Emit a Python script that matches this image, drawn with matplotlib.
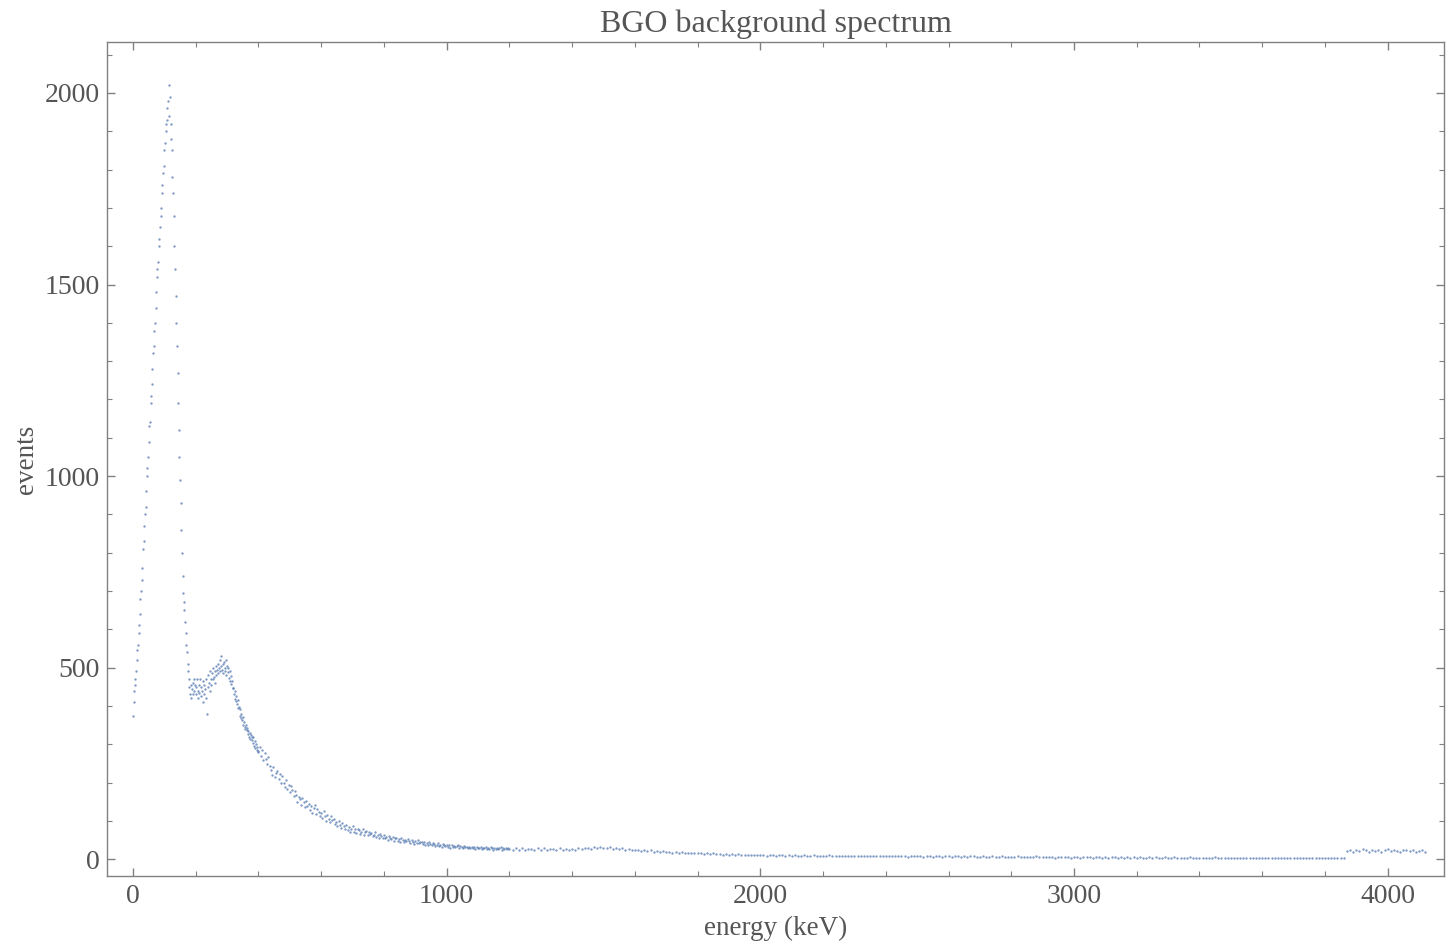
import numpy as np
import matplotlib.pyplot as plt
from matplotlib.ticker import MultipleLocator

# channel energies (keV) of each block of the spectrum
energy_peak = np.arange(0, 400, 2)
energy_mid = np.arange(400, 1200, 4)
energy_tail = np.arange(1200, 3870, 10)
energy_end = np.arange(3870, 4130, 10)

# counts
events_peak = [
    375, 410, 440, 455, 470, 490, 520, 545, 560, 590,
    610, 640, 680, 700, 730, 760, 810, 830, 870, 900,
    920, 960, 1000, 1020, 1050, 1090, 1130, 1140, 1190, 1210,
    1240, 1280, 1320, 1340, 1380, 1400, 1440, 1480, 1520, 1540,
    1560, 1600, 1620, 1650, 1680, 1700, 1740, 1760, 1790, 1810,
    1850, 1870, 1900, 1920, 1930, 1960, 1980, 1940, 2020, 1990,
    1920, 1880, 1850, 1780, 1740, 1680, 1600, 1540, 1470, 1400,
    1340, 1270, 1190, 1120, 1050, 990, 930, 860, 800, 740,
    694, 670, 650, 620, 590, 560, 540, 510, 490, 470,
    450, 430, 455, 420, 445, 460, 430, 470, 440, 455,
    450, 430, 470, 440, 420, 455, 435, 470, 425, 450,
    440, 410, 465, 430, 455, 445, 420, 470, 380, 450,
    480, 460, 440, 490, 470, 455, 485, 470, 500, 475,
    490, 460, 505, 480, 495, 510, 485, 500, 520, 490,
    505, 530, 495, 510, 485, 515, 500, 490, 520, 480,
    505, 488, 500, 472, 490, 466, 478, 458, 465, 448,
    448, 430, 440, 418, 425, 412, 404, 415, 395, 398,
    392, 374, 380, 368, 362, 372, 350, 358, 346, 340,
    350, 336, 342, 326, 334, 320, 330, 314, 324, 318,
    310, 320, 302, 296, 308, 290, 300, 286, 294, 280,
]

events_mid = [
    282, 294, 270, 284, 258, 276, 262, 248, 266, 244,
    232, 220, 240, 214, 226, 230, 208, 222, 200, 216,
    200, 188, 206, 182, 194, 176, 190, 180, 164, 178,
    168, 150, 162, 156, 142, 160, 148, 136, 152, 140,
    144, 128, 138, 120, 134, 142, 118, 130, 124, 112,
    120, 108, 126, 112, 100, 116, 106, 96, 112, 102,
    104, 92, 98, 86, 100, 90, 82, 94, 86, 80,
    88, 76, 84, 70, 80, 86, 72, 78, 68, 80,
    76, 66, 72, 78, 64, 70, 74, 62, 70, 66,
    68, 60, 64, 70, 58, 64, 56, 66, 60, 54,
    62, 54, 58, 50, 60, 56, 52, 58, 48, 56,
    54, 48, 52, 46, 56, 50, 44, 50, 47, 52,
    48, 42, 50, 45, 40, 47, 43, 49, 41, 44,
    44, 40, 46, 38, 42, 36, 44, 40, 37, 42,
    40, 35, 38, 42, 34, 37, 33, 39, 36, 34,
    37, 32, 36, 30, 38, 33, 35, 31, 34, 36,
    30, 34, 32, 28, 35, 31, 33, 29, 32, 30,
    32, 28, 31, 27, 33, 30, 28, 31, 26, 30,
    28, 31, 26, 29, 27, 32, 28, 25, 30, 27,
    29, 26, 28, 31, 25, 28, 27, 30, 26, 29,
]

events_tail = [
    27, 24, 29, 25, 28, 23, 27, 26, 24, 28,
    25, 28, 24, 27, 26, 23, 28, 25, 27, 24,
    27, 25, 29, 26, 28, 30, 27, 31, 29, 32,
    30, 28, 31, 27, 29, 26, 28, 25, 27, 24,
    23, 25, 22, 24, 21, 23, 20, 22, 19, 21,
    18, 20, 17, 19, 16, 18, 16, 17, 15, 17,
    15, 16, 14, 16, 13, 15, 13, 14, 12, 14,
    12, 13, 11, 13, 11, 12, 11, 12, 10, 12,
    10, 11, 9, 11, 10, 9, 11, 10, 9, 10,
    9, 10, 9, 8, 10, 9, 8, 10, 9, 8,
    9, 8, 10, 8, 9, 7, 9, 8, 9, 8,
    8, 9, 7, 8, 9, 7, 8, 8, 7, 9,
    7, 8, 8, 7, 9, 7, 8, 6, 8, 7,
    7, 8, 6, 7, 8, 6, 7, 7, 6, 8,
    7, 6, 7, 8, 6, 7, 6, 7, 8, 6,
    6, 7, 6, 5, 7, 6, 6, 7, 5, 6,
    6, 5, 7, 6, 5, 6, 6, 5, 7, 5,
    5, 6, 5, 6, 4, 6, 5, 5, 6, 4,
    5, 6, 4, 5, 5, 6, 4, 5, 5, 4,
    5, 4, 5, 6, 4, 5, 4, 5, 4, 5,
    4, 5, 4, 4, 5, 3, 5, 4, 4, 5,
    4, 3, 5, 4, 4, 3, 4, 5, 3, 4,
    4, 3, 4, 4, 3, 5, 3, 4, 4, 3,
    3, 4, 4, 3, 4, 3, 3, 4, 3, 4,
    3, 4, 3, 3, 4, 3, 3, 2, 4, 3,
    3, 3, 4, 2, 3, 3, 4, 3, 2, 3,
    3, 2, 3, 3, 4, 2, 3,
]

events_end = [
    22, 25, 19, 24, 21, 26, 23, 20, 25, 22,
    24, 19, 23, 26, 21, 24, 22, 20, 25, 23,
    21, 24, 19, 22, 25, 20,
]

energy = np.concatenate([energy_peak, energy_mid, energy_tail, energy_end])
events = np.concatenate([events_peak, events_mid, events_tail, events_end])

text_col = '#555555'
frame_col = '#808080'
plt.rcParams['font.family'] = ['Liberation Serif', 'DejaVu Serif']

fig = plt.figure(figsize=(14.47, 9.49), dpi=100)
ax = fig.add_axes([0.0739, 0.0769, 0.9241, 0.8788])

ax.plot(energy, events, 'o', ms=1.7, mew=0, color='#5E81B5', alpha=0.8)

ax.set_xlim(-83, 4180)
ax.set_ylim(-44, 2133)
ax.xaxis.set_major_locator(MultipleLocator(1000))
ax.xaxis.set_minor_locator(MultipleLocator(200))
ax.yaxis.set_major_locator(MultipleLocator(500))
ax.yaxis.set_minor_locator(MultipleLocator(100))
ax.tick_params(which='both', direction='in', top=True, right=True,
               color=frame_col, labelcolor=text_col, labelsize=20)
ax.tick_params(which='major', length=6, width=1)
ax.tick_params(which='minor', length=3.5, width=0.8)
ax.tick_params(axis='x', pad=6)
ax.tick_params(axis='y', pad=5)
for s in ax.spines.values():
    s.set_color(frame_col)
    s.set_linewidth(1.0)

ax.set_title('BGO background spectrum', fontsize=23, color=text_col, pad=7)
ax.set_xlabel('energy (keV)', fontsize=19.5, color=text_col, labelpad=5)
ax.set_ylabel('events', fontsize=19.5, color=text_col, labelpad=4)

fig.savefig('out.png', dpi=100)
